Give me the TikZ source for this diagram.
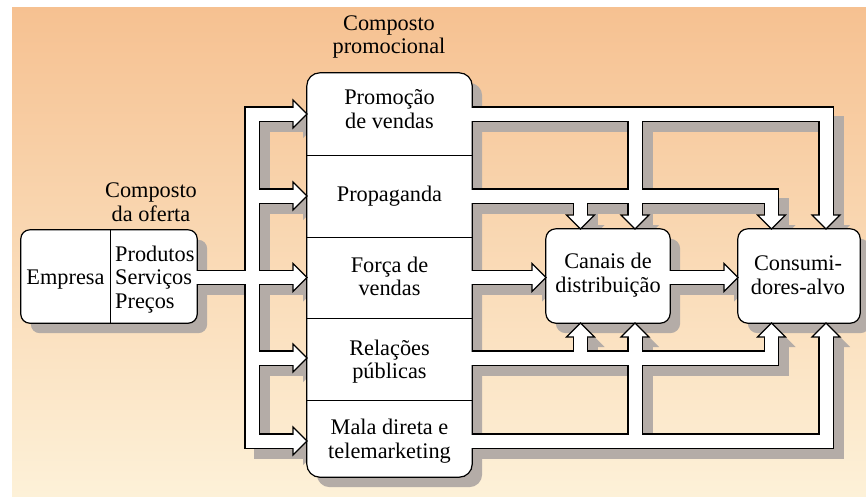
\documentclass[tikz,border=0pt]{standalone}
\usepackage{fontspec}
\setmainfont{Liberation Serif}
\usetikzlibrary{calc}
\definecolor{shadowc}{RGB}{180,172,167}
\definecolor{bgtop}{RGB}{246,193,145}
\definecolor{bgmid}{RGB}{251,215,170}
\definecolor{bgbot}{RGB}{253,241,216}
\tikzset{
  box/.style={draw=black, fill=white, line width=1.2pt, inner sep=0pt},
  lbl/.style={inner sep=0pt, align=center, font=\fontsize{22.3pt}{23.5pt}\selectfont},
  divider/.style={draw=black, line width=1pt},
}
\newcommand\pipepaths[1]{%
  \path[#1] (emp.east |- 0,277.5) -- (293,277.5);
  \path[#1] (293,114) -- (252,114) -- (252,441) -- (293,441);
  \path[#1] (252,196) -- (293,196);
  \path[#1] (252,358) -- (293,358);
  \path[#1] (promo.east |- 0,114) -- (826,114) -- (826,215);
  \path[#1] (promo.east |- 0,196) -- (771.5,196) -- (771.5,215);
  \path[#1] (635,114) -- (635,215);
  \path[#1] (580.5,196) -- (580.5,215);
  \path[#1] (promo.east |- 0,277.5) -- (532,277.5);
  \path[#1] (canais.east |- 0,277.5) -- (724,277.5);
  \path[#1] (promo.east |- 0,358) -- (771.5,358) -- (771.5,337);
  \path[#1] (promo.east |- 0,441) -- (826,441) -- (826,337);
  \path[#1] (635,441) -- (635,337);
  \path[#1] (580.5,358) -- (580.5,337);
}
\newcommand\headpaths[1]{%
  \foreach \yy in {114,196,277.5,358,441}{\path[#1] (293,\yy-14) -- (307,\yy) -- (293,\yy+14) -- cycle;}
  \path[#1] (532,263.5) -- (546,277.5) -- (532,291.5) -- cycle;
  \path[#1] (724,263.5) -- (738,277.5) -- (724,291.5) -- cycle;
  \foreach \xx in {580.5,635,771.5,826}{%
    \path[#1] (\xx-14,215) -- (\xx,229) -- (\xx+14,215) -- cycle;
    \path[#1] (\xx-14,337) -- (\xx,323) -- (\xx+14,337) -- cycle;}
}
\begin{document}
\begin{tikzpicture}[x=1pt,y=-1pt]
\useasboundingbox (0,0) rectangle (866,498);
\fill[white] (0,0) rectangle (866,498);
\shade[top color=bgtop, middle color=bgmid, bottom color=bgbot] (12,7) rectangle (866,496);

% box nodes (geometry, named)
\path (109,276.5) node[minimum width=176pt, minimum height=93pt, inner sep=0pt] (emp) {};
\path (389.5,275) node[minimum width=165pt, minimum height=404pt, inner sep=0pt] (promo) {};
\path (608,276) node[minimum width=124pt, minimum height=94pt, inner sep=0pt] (canais) {};
\path (799,276) node[minimum width=122pt, minimum height=94pt, inner sep=0pt] (cons) {};

% shadows
\foreach \b/\r in {emp/9pt,promo/13pt,canais/10pt,cons/10pt}{
  \fill[shadowc, rounded corners=\r] ($(\b.south west)+(10,10)$) rectangle ($(\b.north east)+(10,10)$);}
\pipepaths{draw=shadowc, line width=15.4pt, shift={(10,10)}}
\headpaths{fill=shadowc, shift={(10,10)}}

% boxes
\foreach \b/\r in {emp/9pt,promo/13pt,canais/10pt,cons/10pt}{
  \draw[box, rounded corners=\r] (\b.south west) rectangle (\b.north east);}
\draw[divider] (emp.north west -| 110,0) -- (emp.south west -| 110,0);
\foreach \yy in {155,237,318,400}{\draw[divider] (promo.west |- 0,\yy) -- (promo.east |- 0,\yy);}

% pipes
\pipepaths{draw=black, line width=15.4pt}
\headpaths{fill=white, draw=black, line width=1.2pt, line join=miter}
\pipepaths{draw=white, line width=13pt, shorten <=-1.5pt, shorten >=-1.5pt}

% labels
\node[lbl] (tpromo) at (389,37) {Composto\\promocional};
\node[lbl] (toferta) at (151,202) {Composto\\da oferta};
\node[lbl] (tempresa) at (65.5,280) {Empresa};
\node[lbl, align=left, anchor=west] (tprod) at (115,279.5) {Produtos\\Serviços\\Preços};
\node[lbl] (t1) at (389.5,109) {Promoção\\de vendas};
\node[lbl] (t2) at (389.5,196) {Propaganda};
\node[lbl] (t3) at (389.5,276.5) {Força de\\vendas};
\node[lbl] (t4) at (389.5,361.5) {Relações\\públicas};
\node[lbl] (t5) at (389.5,441) {Mala direta e\\telemarketing};
\node[lbl] (tcan) at (608,275) {Canais de\\distribuição};
\node[lbl] (tcons) at (798,275) {Consumi-\\dores-alvo};
\end{tikzpicture}
\end{document}
